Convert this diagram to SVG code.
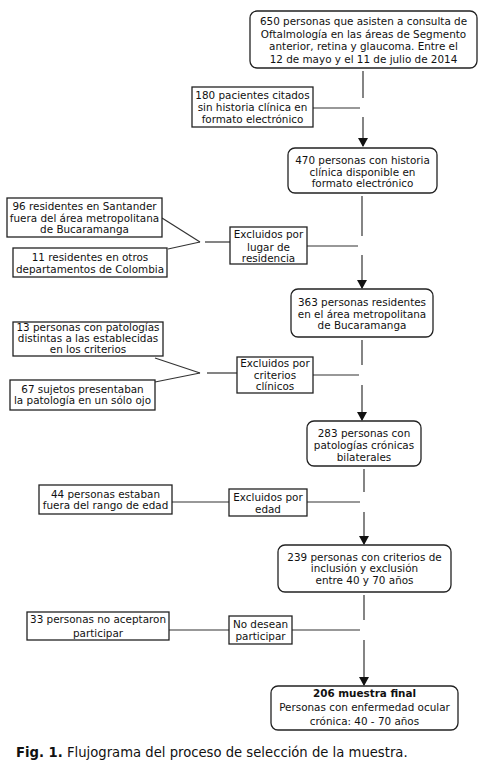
<svg xmlns="http://www.w3.org/2000/svg" width="484" height="769" viewBox="0 0 484 769">
<style>
text{font-family:"DejaVu Sans","Verdana",sans-serif;font-size:10.4px;fill:#111;text-anchor:middle}
.box{fill:#fff;stroke:#222;stroke-width:1.3}
.ln{stroke:#333;stroke-width:1.2;fill:none}
.cap{font-size:13.2px;text-anchor:start}
</style>
<defs>
<marker id="ah" markerWidth="10" markerHeight="10" refX="8" refY="5" orient="auto" markerUnits="userSpaceOnUse">
<path d="M0,0 L9,5 L0,10 Z" fill="#111"/>
</marker>
</defs>
<rect width="484" height="769" fill="#fff"/>
<g id="connectors">
<line class="ln" x1="363" y1="71" x2="363" y2="98"/>
<line class="ln" x1="363" y1="117" x2="363" y2="146" marker-end="url(#ah)"/>
<line class="ln" x1="313" y1="108" x2="360" y2="108"/>
<line class="ln" x1="362" y1="196" x2="362" y2="236"/>
<line class="ln" x1="362" y1="255" x2="362" y2="288" marker-end="url(#ah)"/>
<line class="ln" x1="162" y1="218" x2="200" y2="242"/>
<line class="ln" x1="168" y1="249" x2="200" y2="242"/>
<line class="ln" x1="205" y1="242" x2="230" y2="242"/>
<line class="ln" x1="307" y1="246" x2="358" y2="246"/>
<line class="ln" x1="362" y1="340" x2="362" y2="365"/>
<line class="ln" x1="362" y1="385" x2="362" y2="420" marker-end="url(#ah)"/>
<line class="ln" x1="155" y1="358" x2="200" y2="373"/>
<line class="ln" x1="155" y1="382" x2="200" y2="373"/>
<line class="ln" x1="207" y1="373" x2="237" y2="373"/>
<line class="ln" x1="313" y1="375" x2="359" y2="375"/>
<line class="ln" x1="364" y1="469" x2="364" y2="492"/>
<line class="ln" x1="364" y1="512" x2="364" y2="544" marker-end="url(#ah)"/>
<line class="ln" x1="172" y1="502" x2="229" y2="502"/>
<line class="ln" x1="307" y1="502" x2="360" y2="502"/>
<line class="ln" x1="364" y1="595" x2="364" y2="620"/>
<line class="ln" x1="364" y1="640" x2="364" y2="685" marker-end="url(#ah)"/>
<line class="ln" x1="169" y1="630" x2="229" y2="630"/>
<line class="ln" x1="292" y1="630" x2="360" y2="630"/>
</g>
<g id="n650">
<rect class="box" x="250" y="11" width="227" height="57" rx="7"/>
<text x="363.5" y="25">650 personas que asisten a consulta de</text>
<text x="363.5" y="38">Oftalmología en las áreas de Segmento</text>
<text x="363.5" y="50">anterior, retina y glaucoma. Entre el</text>
<text x="363.5" y="63">12 de mayo y el 11 de julio de 2014</text>
</g>
<g id="n180">
<rect class="box" x="192" y="87" width="121" height="40"/>
<text x="252.5" y="98.5">180 pacientes citados</text>
<text x="252.5" y="110.5">sin historia clínica en</text>
<text x="252.5" y="123">formato electrónico</text>
</g>
<g id="n470">
<rect class="box" x="288" y="148" width="149" height="45" rx="7"/>
<text x="362.5" y="163.5">470 personas con historia</text>
<text x="362.5" y="175.5">clínica disponible en</text>
<text x="362.5" y="187">formato electrónico</text>
</g>
<g id="n96">
<rect class="box" x="7" y="198" width="155" height="39"/>
<text x="84.5" y="209.5">96 residentes en Santander</text>
<text x="84.5" y="221.5">fuera del área metropolitana</text>
<text x="84.5" y="232.5">de Bucaramanga</text>
</g>
<g id="n11">
<rect class="box" x="13" y="248" width="154" height="29"/>
<text x="90" y="260.5">11 residentes en otros</text>
<text x="90" y="272.5">departamentos de Colombia</text>
</g>
<g id="nlugar">
<rect class="box" x="230" y="227" width="77" height="37"/>
<text x="268.5" y="237.5">Excluidos por</text>
<text x="268.5" y="250.5">lugar de</text>
<text x="268.5" y="261.5">residencia</text>
</g>
<g id="n363">
<rect class="box" x="291" y="289" width="142" height="48" rx="7"/>
<text x="362" y="305.5">363 personas residentes</text>
<text x="362" y="317.5">en el área metropolitana</text>
<text x="362" y="328.5">de Bucaramanga</text>
</g>
<g id="n13">
<rect class="box" x="13" y="322" width="150" height="34"/>
<text x="88" y="330.5">13 personas con patologías</text>
<text x="88" y="341.5">distintas a las establecidas</text>
<text x="88" y="352.5">en los criterios</text>
</g>
<g id="n67">
<rect class="box" x="10" y="380" width="145" height="30"/>
<text x="82.5" y="392.5">67 sujetos presentaban</text>
<text x="82.5" y="403.5">la patología en un sólo ojo</text>
</g>
<g id="nclin">
<rect class="box" x="237" y="357" width="76" height="36"/>
<text x="275" y="366.5">Excluidos por</text>
<text x="275" y="378.5">criterios</text>
<text x="275" y="389.5">clínicos</text>
</g>
<g id="n283">
<rect class="box" x="307" y="421" width="114" height="45" rx="7"/>
<text x="364" y="436.5">283 personas con</text>
<text x="364" y="448.5">patologías crónicas</text>
<text x="364" y="460.5">bilaterales</text>
</g>
<g id="n44">
<rect class="box" x="39" y="485" width="133" height="29"/>
<text x="105.5" y="497.5">44 personas estaban</text>
<text x="105.5" y="508.5">fuera del rango de edad</text>
</g>
<g id="nedad">
<rect class="box" x="229" y="489" width="78" height="27"/>
<text x="268" y="500.5">Excluidos por</text>
<text x="268" y="512.5">edad</text>
</g>
<g id="n239">
<rect class="box" x="278" y="545" width="173" height="47" rx="7"/>
<text x="364.5" y="560.5">239 personas con criterios de</text>
<text x="364.5" y="571.5">inclusión y exclusión</text>
<text x="364.5" y="583.5">entre 40 y 70 años</text>
</g>
<g id="n33">
<rect class="box" x="27" y="612" width="142" height="28"/>
<text x="98" y="622.5">33 personas no aceptaron</text>
<text x="98" y="636.5">participar</text>
</g>
<g id="ndesean">
<rect class="box" x="229" y="616" width="63" height="28"/>
<text x="260.5" y="627.5">No desean</text>
<text x="260.5" y="639.5">participar</text>
</g>
<g id="n206">
<rect class="box" x="271" y="686" width="187" height="44" rx="7"/>
<text x="364.5" y="696.5" font-weight="bold">206 muestra final</text>
<text x="364.5" y="710.5">Personas con enfermedad ocular</text>
<text x="364.5" y="724.5">crónica: 40 - 70 años</text>
</g>
<g id="caption">
<text class="cap" x="16" y="757"><tspan font-weight="bold">Fig. 1.</tspan> Flujograma del proceso de selección de la muestra.</text>
</g>
</svg>
